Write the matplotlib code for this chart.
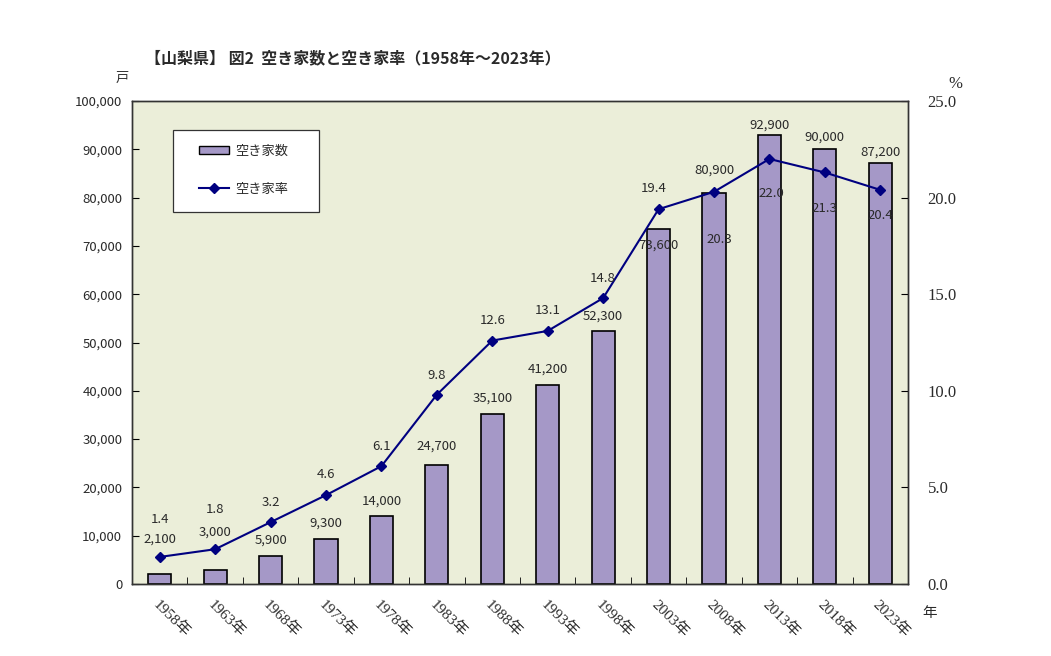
import matplotlib
matplotlib.use("Agg")
import matplotlib.pyplot as plt
from matplotlib.patches import Rectangle
from matplotlib.lines import Line2D
from matplotlib.ticker import FuncFormatter, FixedLocator

plt.rcParams["font.family"] = ["Noto Sans CJK JP", "DejaVu Sans"]

# Data
years = [1958, 1963, 1968, 1973, 1978, 1983, 1988, 1993, 1998, 2003, 2008, 2013, 2018, 2023]
vacant_houses = [2100, 3000, 5900, 9300, 14000, 24700, 35100, 41200, 52300, 73600, 80900, 92900, 90000, 87200]
vacancy_rate = [1.4, 1.8, 3.2, 4.6, 6.1, 9.8, 12.6, 13.1, 14.8, 19.4, 20.3, 22.0, 21.3, 20.4]
year_labels = [f"{y}年" for y in years]

# Label placement (pixel offsets from each mark), as in the original Excel chart
BAR_LABEL_DY = [35, 37, 15, 16, 15, 19, 16, 16, 15, -17, 23, 10, 12, 11]
RATE_LABEL_DXY = [(0, 37), (0, 40), (0, 20), (0, 21), (0, 20), (0, 19), (0, 20), (0, 20),
                  (0, 20), (-5, 21), (5, -48), (2, -35), (0, -36), (0, -26)]

BAR_COLOR = "#a598c7"
LINE_COLOR = "#000080"
PLOT_BG = "#ebeed9"
TEXT_COLOR = "#2a2a2a"
SERIF = ["Liberation Serif", "Noto Sans CJK JP"]

fig = plt.figure(figsize=(10.51, 6.56), dpi=100)
ax = fig.add_axes([132 / 1051, 1 - 584 / 656, 776 / 1051, 483 / 656])
ax2 = ax.twinx()
ax.set_zorder(ax2.get_zorder() - 1)
ax2.patch.set_visible(False)
ax.set_facecolor(PLOT_BG)

x = list(range(len(years)))
ax.bar(x, vacant_houses, width=0.42, color=BAR_COLOR, edgecolor="black", linewidth=1.2, zorder=2)
ax2.plot(x, vacancy_rate, color=LINE_COLOR, linewidth=1.5, marker="D", markersize=5, zorder=3)

ax.set_xlim(-0.5, len(years) - 0.5)
ax.set_ylim(0, 100000)
ax2.set_ylim(0, 25)

# left axis
ax.yaxis.set_major_locator(FixedLocator(range(0, 100001, 10000)))
ax.yaxis.set_major_formatter(FuncFormatter(lambda v, p: f"{int(v):,}"))
ax.tick_params(axis="y", direction="in", length=5, pad=7, labelsize=9.5, labelcolor=TEXT_COLOR)

# right axis
ax2.yaxis.set_major_locator(FixedLocator([0, 5, 10, 15, 20, 25]))
ax2.yaxis.set_major_formatter(FuncFormatter(lambda v, p: f"{v:.1f}"))
ax2.tick_params(axis="y", direction="in", length=5, pad=14, labelsize=12, labelcolor=TEXT_COLOR)
for lab in ax2.get_yticklabels():
    lab.set_fontfamily(SERIF)

# x axis: ticks between categories, labels under each bar
ax.set_xticks(x)
ax.set_xticklabels(year_labels, rotation=-45, ha="left", va="top", rotation_mode="anchor",
                   fontsize=11, color=TEXT_COLOR, family=SERIF)
ax.tick_params(axis="x", which="major", length=0, pad=10)
ax.set_xticks([i + 0.5 for i in range(len(years) - 1)], minor=True)
ax.tick_params(axis="x", which="minor", direction="in", length=5)

for a in (ax, ax2):
    for s in a.spines.values():
        s.set_color("#333333")
        s.set_linewidth(1.0)

# data labels
for i, v in enumerate(vacant_houses):
    ax.annotate(f"{v:,}", (i, v), xytext=(0, BAR_LABEL_DY[i]), textcoords="offset pixels",
                ha="center", va="center", fontsize=9.5, color=TEXT_COLOR, zorder=5)
for i, r in enumerate(vacancy_rate):
    dx, dy = RATE_LABEL_DXY[i]
    ax2.annotate(f"{r:.1f}", (i, r), xytext=(dx, dy), textcoords="offset pixels",
                 ha="center", va="center", fontsize=9.5, color=TEXT_COLOR, zorder=5)

# legend box
box = Rectangle((173 / 1051, 1 - 212 / 656), 146 / 1051, 82 / 656, transform=fig.transFigure,
                facecolor="white", edgecolor="#333333", linewidth=0.9, zorder=6)
fig.add_artist(box)
handles = [Rectangle((0, 0), 1, 1, facecolor=BAR_COLOR, edgecolor="black", linewidth=1.0),
           Line2D([], [], color=LINE_COLOR, linewidth=1.5, marker="D", markersize=5)]
leg = fig.legend(handles, ["空き家数", "空き家率"], loc="upper left",
                 bbox_to_anchor=(192 / 1051, 1 - 138 / 656), frameon=False,
                 fontsize=9.5, handlelength=2.3, handleheight=0.55, handletextpad=0.45,
                 labelspacing=1.9, borderpad=0)
leg.set_zorder(7)
for t in leg.get_texts():
    t.set_color(TEXT_COLOR)

# titles and units
fig.text(145 / 1051, 1 - 58 / 656, "【山梨県】 図2  空き家数と空き家率（1958年～2023年）",
         fontsize=11.5, fontweight="bold", color=TEXT_COLOR, ha="left", va="center")
fig.text(122 / 1051, 1 - 78 / 656, "戸", fontsize=9.5, color=TEXT_COLOR, ha="center", va="center")
fig.text(955 / 1051, 1 - 84 / 656, "%", fontsize=12, color=TEXT_COLOR, ha="center", va="center",
         family=SERIF)
fig.text(930 / 1051, 1 - 613 / 656, "年", fontsize=10.5, color=TEXT_COLOR, ha="center", va="center")

fig.savefig("out.png", dpi=100, facecolor="white")
